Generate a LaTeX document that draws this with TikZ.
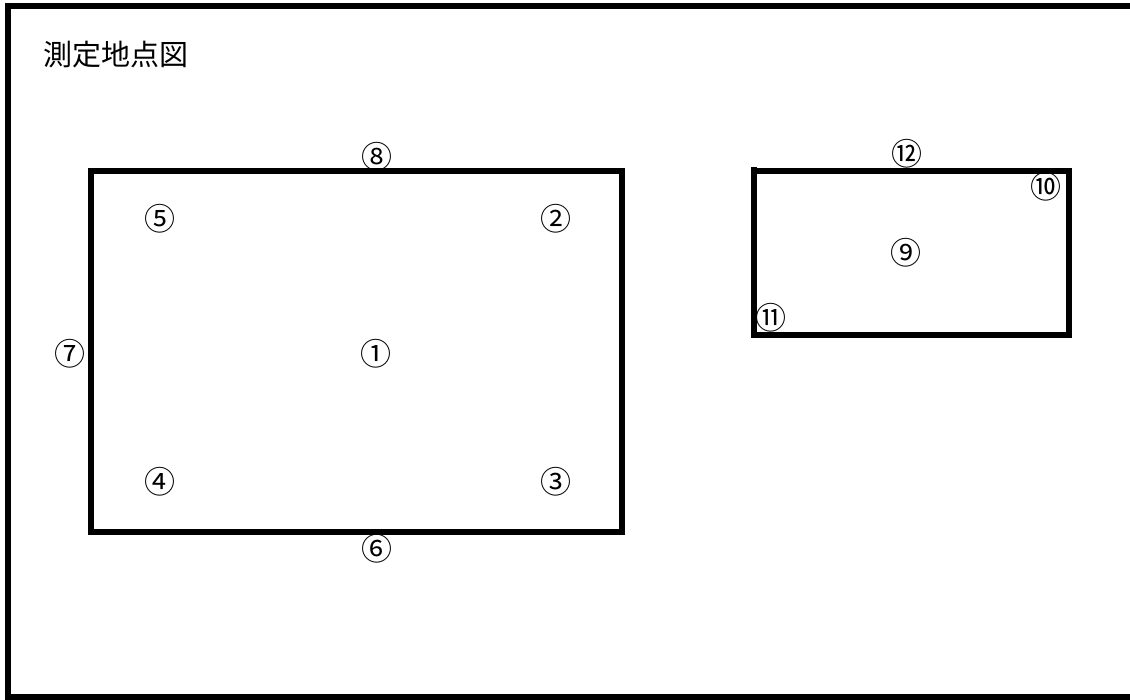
\documentclass[tikz,border=0pt]{standalone}
\usepackage{fontspec}
\newfontfamily\jpfont{Noto Sans CJK JP}
\begin{document}
\begin{tikzpicture}[x=1pt,y=-1pt,
  wall/.style={line width=6pt,line cap=rect},
  pt/.style={font=\jpfont\fontsize{31}{31}\selectfont,inner sep=0pt},
  ttl/.style={font=\jpfont\fontsize{29}{29}\selectfont,inner sep=0pt,anchor=west}]
\useasboundingbox (0,0) rectangle (1130,699);
\fill[white] (0,0) rectangle (1130,699);
% outer frame
\draw[line width=6pt] (1135,6) -- (8,6) -- (8,697) -- (1135,697);
\node[ttl] (title) at (43,55) {測定地点図};
% large area
\draw[wall] (91,171) rectangle (622,532);
% small area
\draw[wall] (754,171) rectangle (1069,334.5);
\draw[line width=6pt] (754,167) -- (754,171);
% points
\node[pt] (p1) at (376,354) {①};
\node[pt] (p2) at (556,219) {②};
\node[pt] (p3) at (556,482) {③};
\node[pt] (p4) at (160,482) {④};
\node[pt] (p5) at (160,219) {⑤};
\node[pt] (p6) at (377,549) {⑥};
\node[pt] (p7) at (70,354) {⑦};
\node[pt] (p8) at (377,157) {⑧};
\node[pt] (p9) at (906,253) {⑨};
\node[pt] (p10) at (1046,187) {⑩};
\node[pt] (p11) at (771,318) {⑪};
\node[pt] (p12) at (907,154) {⑫};
\end{tikzpicture}
\end{document}
